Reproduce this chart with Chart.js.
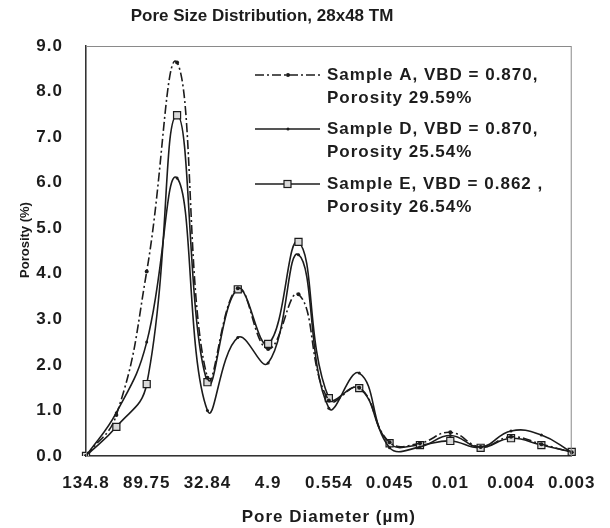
<!DOCTYPE html>
<html>
<head>
<meta charset="utf-8">
<script src="https://cdn.jsdelivr.net/npm/chart.js@4"></script>
<style>
  html, body { margin: 0; padding: 0; background: #fff; }
  #wrap { width: 610px; height: 528px; position: relative; }
</style>
</head>
<body>
<div id="wrap"><canvas id="chart"></canvas></div>
<script>
// pore diameter categories (um); only every other one gets a tick label
const diameters = ['134.8', '', '89.75', '', '32.84', '', '4.9', '', '0.554', '', '0.045', '', '0.01', '', '0.004', '', '0.003'];

// porosity (%) per sample
const sampleA = [0, 0.9, 4.05, 8.64, 1.72, 3.68, 2.35, 3.55, 1.22, 1.5, 0.3, 0.28, 0.52, 0.2, 0.42, 0.26, 0.08];
const sampleD = [0, 0.95, 2.5, 6.1, 1.0, 2.6, 2.04, 4.42, 1.05, 1.82, 0.18, 0.2, 0.45, 0.2, 0.55, 0.46, 0.08];
const sampleE = [0, 0.64, 1.58, 7.48, 1.62, 3.66, 2.46, 4.7, 1.27, 1.49, 0.28, 0.24, 0.33, 0.18, 0.39, 0.24, 0.09];

const legendLines = [
  ['Sample A, VBD = 0.870,', 'Porosity 29.59%'],
  ['Sample D, VBD = 0.870,', 'Porosity 25.54%'],
  ['Sample E, VBD = 0.862 ,', 'Porosity 26.54%']
];

const FONT = '"Liberation Sans", Arial, sans-serif';
const INK = '#1c1c1c';
const dashA = [9, 3, 2, 3];

// the scanned original uses loosely spaced letters
const spacing = {
  id: 'spacing',
  beforeDraw(chart) { chart.ctx.letterSpacing = '1px'; }
};

// frame, title, y title and the in-plot legend
const extras = {
  id: 'extras',
  afterDraw(chart) {
    const { ctx, chartArea: a } = chart;
    ctx.save();
    ctx.strokeStyle = '#8a8a8a';
    ctx.lineWidth = 1;
    ctx.strokeRect(a.left + 0.5, a.top + 0.5, a.right - a.left - 1, a.bottom - a.top);

    ctx.fillStyle = INK;
    ctx.letterSpacing = '0px';
    ctx.font = 'bold 17px ' + FONT;
    ctx.textAlign = 'center';
    ctx.textBaseline = 'middle';
    ctx.fillText('Pore Size Distribution, 28x48 TM', 262, 16);

    ctx.save();
    ctx.translate(25, 240);
    ctx.rotate(-Math.PI / 2);
    ctx.font = 'bold 13px ' + FONT;
    ctx.fillText('Porosity (%)', 0, 0);
    ctx.restore();

    const rows = [75, 129, 184];
    ctx.letterSpacing = '1px';
    ctx.font = 'bold 17px ' + FONT;
    ctx.textAlign = 'left';
    chart.data.datasets.forEach((ds, i) => {
      const y = rows[i];
      ctx.strokeStyle = INK;
      ctx.lineWidth = 1.6;
      ctx.setLineDash(ds.borderDash || []);
      ctx.beginPath();
      ctx.moveTo(255, y);
      ctx.lineTo(320, y);
      ctx.stroke();
      ctx.setLineDash([]);
      if (ds.pointStyle === 'rect') {
        ctx.fillStyle = ds.pointBackgroundColor;
        ctx.lineWidth = 1.2;
        ctx.fillRect(284, y - 3.5, 7, 7);
        ctx.strokeRect(284, y - 3.5, 7, 7);
      } else {
        ctx.fillStyle = INK;
        ctx.beginPath();
        ctx.arc(288, y, ds.pointRadius, 0, Math.PI * 2);
        ctx.fill();
      }
      ctx.fillStyle = INK;
      ctx.fillText(legendLines[i][0], 327, y);
      ctx.fillText(legendLines[i][1], 327, y + 23);
    });
    ctx.restore();
  }
};

new Chart(document.getElementById('chart'), {
  type: 'line',
  data: {
    labels: diameters,
    datasets: [
      {
        label: 'Sample A',
        data: sampleA,
        borderColor: INK,
        borderWidth: 1.6,
        borderDash: dashA,
        pointStyle: 'circle',
        pointRadius: 2,
        pointBackgroundColor: INK,
        pointBorderWidth: 0,
        tension: 0.45
      },
      {
        label: 'Sample D',
        data: sampleD,
        borderColor: INK,
        borderWidth: 1.6,
        pointStyle: 'circle',
        pointRadius: 1.5,
        pointBackgroundColor: INK,
        pointBorderWidth: 0,
        tension: 0.45
      },
      {
        label: 'Sample E',
        data: sampleE,
        borderColor: INK,
        borderWidth: 1.6,
        pointStyle: 'rect',
        pointRadius: 5,
        pointBackgroundColor: '#d8d8d8',
        pointBorderColor: INK,
        pointBorderWidth: 1.2,
        tension: 0.45
      }
    ]
  },
  options: {
    responsive: true,
    maintainAspectRatio: false,
    animation: false,
    layout: { padding: { left: 0, right: 35, top: 46, bottom: 0 } },
    plugins: {
      legend: { display: false },
      title: { display: false },
      tooltip: { enabled: false }
    },
    scales: {
      x: {
        type: 'category',
        offset: false,
        grid: { display: false, drawTicks: false },
        border: { display: true, color: '#333', width: 1.5 },
        ticks: {
          autoSkip: false,
          maxRotation: 0,
          padding: 17,
          color: INK,
          font: { family: FONT, size: 17, weight: 'bold' }
        },
        title: {
          display: true,
          text: 'Pore Diameter (µm)',
          color: INK,
          padding: { top: 0, bottom: 0 },
          font: { family: FONT, size: 17, weight: 'bold' }
        },
        afterFit(scale) { scale.height = 72; }
      },
      y: {
        min: 0,
        max: 9,
        grid: { display: false, drawTicks: false },
        border: { display: true, color: '#333', width: 1.5 },
        ticks: {
          stepSize: 1,
          padding: 23,
          color: INK,
          font: { family: FONT, size: 17, weight: 'bold' },
          callback: v => v.toFixed(1)
        },
        afterFit(scale) { scale.width = 86; }
      }
    }
  },
  plugins: [spacing, extras]
});
</script>
</body>
</html>
